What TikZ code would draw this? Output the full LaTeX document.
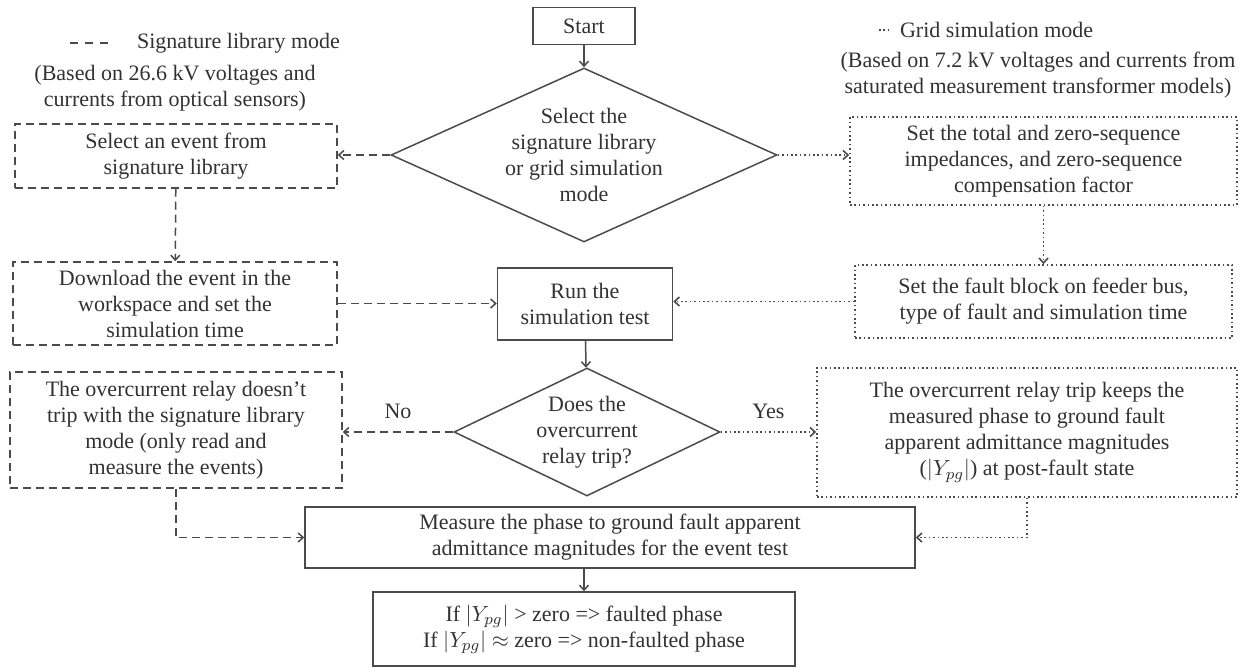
\documentclass[tikz,border=0pt]{standalone}
\usepackage{amsmath}
\usepackage{fontspec}
\setmainfont{Liberation Serif}
\usepackage{tikz}
\usetikzlibrary{positioning}
\usetikzlibrary{shapes.geometric}
\usetikzlibrary{arrows.meta}

\definecolor{linegray}{RGB}{75,75,75}
\definecolor{textgray}{RGB}{50,50,50}

\begin{document}
\begin{tikzpicture}[x=0.5pt, y=-0.5pt,
		every node/.style={font=\fontsize{11}{13}\selectfont, text=textgray, align=center},
		box/.style={draw=linegray, line width=0.75pt, rectangle, inner sep=0pt},
		libbox/.style={box, dash pattern=on 4pt off 2.5pt},
		gridbox/.style={box, line width=0.8pt, dash pattern=on 0.8pt off 1.4pt},
		choice/.style={draw=linegray, line width=0.75pt, diamond, inner sep=0pt},
		flow/.style={draw=linegray, line width=0.75pt, ->},
		libline/.style={flow, dash pattern=on 4pt off 2.5pt},
		gridline/.style={flow, line width=0.8pt, dash pattern=on 0.8pt off 1.4pt},
		>={Straight Barb[length=2.5pt, width=4.5pt]}]
		\useasboundingbox (0,0) rectangle (1242,668);
		\node[box, minimum width=51pt, minimum height=18.5pt] (start) at (584,26) {Start};
		\node[choice, aspect=2.2, minimum width=193pt, minimum height=87pt] (sel) at (584,155) {Select the\\signature library\\or grid simulation\\mode};
		\node[libbox, minimum width=161pt, minimum height=32pt] (lib1) at (176,156) {Select an event from\\signature library};
		\node[libbox, minimum width=162pt, minimum height=41.5pt] (lib2) at (175,303.5) {Download the event in the\\workspace and set the\\simulation time};
		\node[libbox, minimum width=166pt, minimum height=58pt] (lib3) at (176,430) {The overcurrent relay doesn’t\\trip with the signature library\\mode (only read and\\measure the events)};
		\node[gridbox, minimum width=193.5pt, minimum height=44pt] (grid1) at (1043.5,161) {Set the total and zero-sequence\\impedances, and zero-sequence\\compensation factor};
		\node[gridbox, minimum width=188.5pt, minimum height=36.5pt] (grid2) at (1043.5,301.5) {Set the fault block on feeder bus,\\type of fault and simulation time};
		\node[gridbox, minimum width=210pt, minimum height=64.5pt] (grid3) at (1027,432.5) {The overcurrent relay trip keeps the\\measured phase to ground fault\\apparent admittance magnitudes\\($|Y_{pg}|$) at post-fault state};
		\node[box, minimum width=87.5pt, minimum height=36pt] (run) at (585,304) {Run the\\simulation test};
		\node[choice, aspect=2.1, minimum width=133pt, minimum height=64pt] (chk) at (587,432) {Does the\\overcurrent\\relay trip?};
		\node[box, minimum width=305pt, minimum height=30.5pt] (meas) at (610,537.5) {Measure the phase to ground fault apparent\\admittance magnitudes for the event test};
		\node[box, minimum width=211pt, minimum height=37pt] (res) at (584,629) {If $|Y_{pg}|$ > zero => faulted phase\\If $|Y_{pg}|$ $\approx$ zero => non-faulted phase};
		\draw[linegray, line width=0.75pt, dash pattern=on 4pt off 3.5pt] (70,43) -- (108,43);
		\node[anchor=west] (libkey) at (130,43) {Signature library mode};
		\node (libnote) at (175,88) {(Based on 26.6 kV voltages and\\currents from optical sensors)};
		\draw[linegray, line width=0.8pt, dash pattern=on 0.8pt off 1.4pt] (879,30) -- (892,30);
		\node[anchor=west] (gridkey) at (893,30) {Grid simulation mode};
		\node (gridnote) at (1038,75) {(Based on 7.2 kV voltages and currents from\\saturated measurement transformer models)};
		\draw[flow] (start) -- (sel);
		\draw[libline] (sel.west) -- (sel.west -| lib1.east);
		\draw[gridline] (sel.east) -- (sel.east -| grid1.west);
		\draw[libline] (lib1) -- (lib2);
		\draw[gridline] (grid1) -- (grid2);
		\draw[libline] (lib2.east) -- (lib2.east -| run.west);
		\draw[gridline] (grid2.west) -- (grid2.west -| run.east);
		\draw[flow] (run) -- (chk);
		\draw[libline] (chk.west) -- node[above=3pt] {No} (chk.west -| lib3.east);
		\draw[gridline] (chk.east) -- node[above=3pt] {Yes} (chk.east -| grid3.west);
		\draw[libline] (lib3.south) |- (meas.west);
		\draw[gridline] (grid3.south) |- (meas.east);
		\draw[flow] (meas.south -| res.north) -- (res.north);
	\end{tikzpicture}
\end{document}
